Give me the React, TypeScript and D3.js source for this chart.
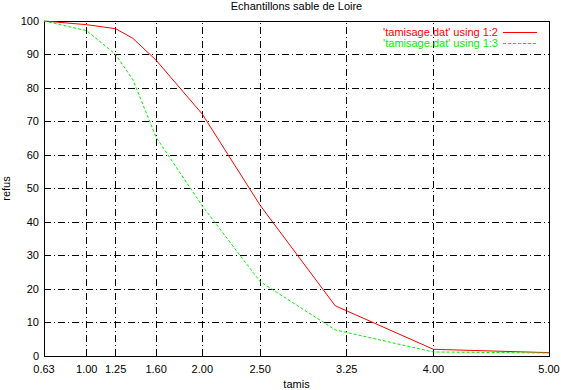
import React from "react";
import { scaleLinear, line } from "d3";

// tamis (x) et refus (y)
const tamis = [0.63, 1.0, 1.25, 1.4, 1.6, 2.0, 2.5, 3.15, 4.0, 5.0];
const refus12 = [100, 98.9, 97.7, 94.8, 88.3, 72.2, 45, 15, 2.0, 1.0];
const refus13 = [100, 97.1, 90, 82.4, 65.3, 44.8, 22.2, 7.8, 1.2, 0.9];
const xTicks = [0.63, 1.0, 1.25, 1.6, 2.0, 2.5, 3.25, 4.0, 5.0];
const yTicks = [0, 10, 20, 30, 40, 50, 60, 70, 80, 90, 100];
const seriesNames = ["'tamisage.dat' using 1:2", "'tamisage.dat' using 1:3"];

const W = 561;
const H = 390;
const margin = { left: 44, right: 12, top: 21, bottom: 34 };
const font = "'Liberation Sans', Arial, Helvetica, sans-serif";

export default function App() {
  const x = scaleLinear().domain([0.63, 5.0]).range([margin.left, W - margin.right]);
  const y = scaleLinear().domain([0, 100]).range([H - margin.bottom, margin.top]);

  const mk = (vals: number[]) =>
    line<number>()
      .x((_, i) => x(tamis[i]))
      .y((d) => y(d))(vals) || "";

  const gridDash = "7,3,1,3";
  const series = [
    { vals: refus12, color: "#ff0000", dash: undefined as string | undefined },
    { vals: refus13, color: "#00ee00", dash: "3,2" },
  ];

  return (
    <svg
      width={W}
      height={H}
      style={{ position: "absolute", left: 0, top: 0, background: "#fff" }}
      fontFamily={font}
      fontSize={11}
    >
      <rect width={W} height={H} fill="#fff" />
      {/* grille */}
      {xTicks.slice(1, -1).map((t) => (
        <line
          key={"gx" + t}
          x1={x(t)}
          x2={x(t)}
          y1={y(0)}
          y2={y(100)}
          stroke="#000"
          strokeDasharray={gridDash}
          shapeRendering="crispEdges"
        />
      ))}
      {yTicks.slice(1, -1).map((t) => (
        <line
          key={"gy" + t}
          x1={x(0.63)}
          x2={x(5)}
          y1={y(t)}
          y2={y(t)}
          stroke="#000"
          strokeDasharray={gridDash}
          shapeRendering="crispEdges"
        />
      ))}
      {/* cadre */}
      <rect
        x={x(0.63)}
        y={y(100)}
        width={x(5) - x(0.63)}
        height={y(0) - y(100)}
        fill="none"
        stroke="#000"
        shapeRendering="crispEdges"
      />
      {/* étiquettes */}
      {yTicks.map((t) => (
        <text key={"ly" + t} x={margin.left - 5} y={y(t)} dy="0.35em" textAnchor="end">
          {t}
        </text>
      ))}
      {xTicks.map((t) => (
        <text key={"lx" + t} x={x(t)} y={373} textAnchor="middle">
          {t.toFixed(2)}
        </text>
      ))}
      <text x={W / 2 + 16} y={10} textAnchor="middle">
        Echantillons sable de Loire
      </text>
      <text x={(x(0.63) + x(5)) / 2} y={388} textAnchor="middle">
        tamis
      </text>
      <text transform={`translate(10,${(y(0) + y(100)) / 2}) rotate(-90)`} textAnchor="middle">
        refus
      </text>
      {/* courbes */}
      {series.map((s, i) => (
        <path key={"s" + i} d={mk(s.vals)} fill="none" stroke={s.color} strokeDasharray={s.dash} />
      ))}
      {/* légende */}
      {series.map((s, i) => (
        <g key={"lg" + i}>
          <text x={498} y={32 + i * 11} dy="0.35em" textAnchor="end" fill={s.color}>
            {seriesNames[i]}
          </text>
          <line x1={503} x2={537} y1={32.5 + i * 11} y2={32.5 + i * 11} stroke={s.color} strokeDasharray={s.dash} />
        </g>
      ))}
    </svg>
  );
}
